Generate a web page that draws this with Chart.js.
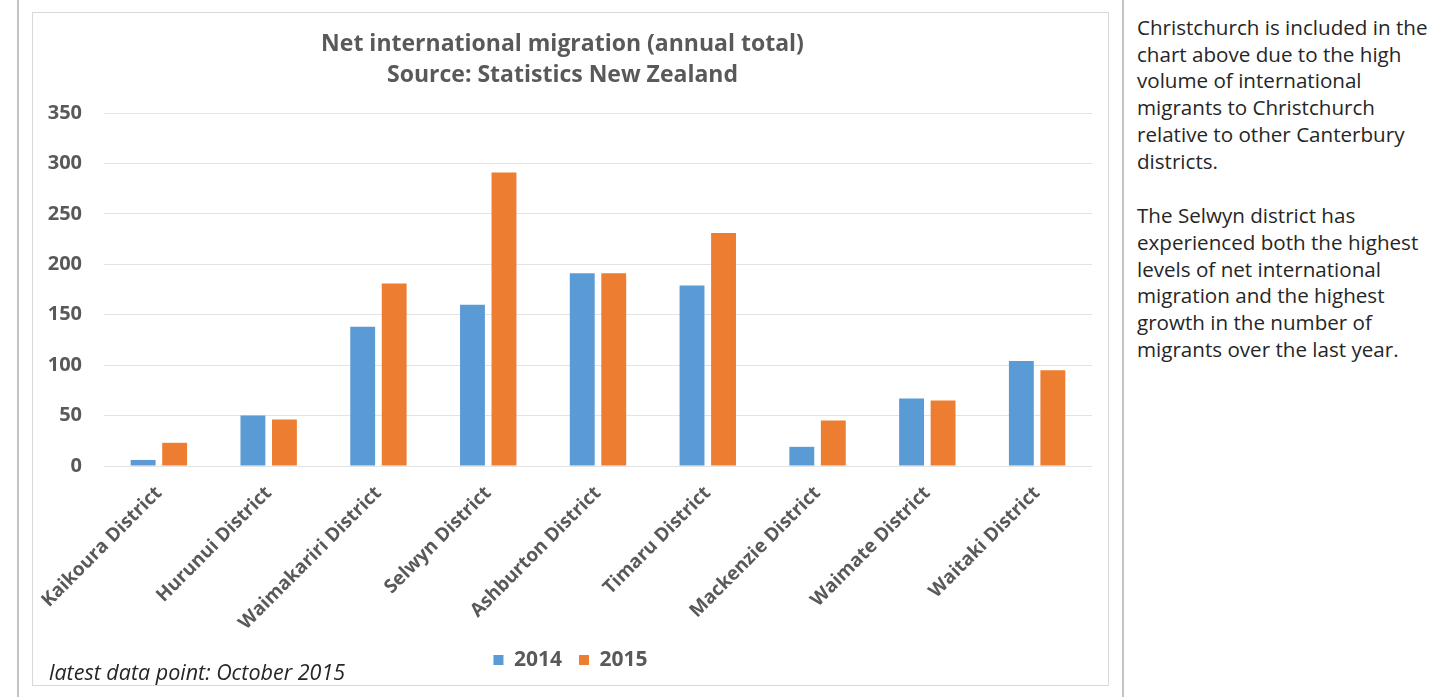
<!DOCTYPE html>
<html>
<head>
<meta charset="utf-8">
<script src="https://cdn.jsdelivr.net/npm/chart.js@4.4.0/dist/chart.umd.min.js"></script>
<style>
  html, body { margin: 0; padding: 0; background: #ffffff; }
  body { width: 1445px; height: 697px; position: relative; overflow: hidden; font-family: "Open Sans", sans-serif; }
  .rule { position: absolute; top: 0; width: 2px; height: 697px; background: #c3c3c3; }
  #box { position: absolute; left: 32px; top: 12px; width: 1077px; height: 674px; box-sizing: border-box; border: 1px solid #d9d9d9; }
  #wrap { position: relative; width: 1075px; height: 672px; }
  #note { position: absolute; left: 49px; top: 657px; font-style: italic; font-size: 21.5px; line-height: 30px; color: #262626; white-space: nowrap; }
  #side { position: absolute; left: 1137px; top: 14px; font-size: 20.6px; line-height: 26.7px; color: #262626; white-space: nowrap; }
  #side p { margin: 0 0 28px 0; }
</style>
</head>
<body>
<div class="rule" style="left:17px"></div>
<div class="rule" style="left:1122px"></div>
<div id="box"><div id="wrap"><canvas id="chart"></canvas></div></div>
<div id="note">latest data point: October 2015</div>
<div id="side">
  <p>Christchurch is included in the<br>chart above due to the high<br>volume of international<br>migrants to Christchurch<br>relative to other Canterbury<br>districts.</p>
  <p>The Selwyn district has<br>experienced both the highest<br>levels of net international<br>migration and the highest<br>growth in the number of<br>migrants over the last year.</p>
</div>
<script>
// Canterbury districts and net international migration (annual total)
const districts = [
  'Kaikoura District', 'Hurunui District', 'Waimakariri District',
  'Selwyn District', 'Ashburton District', 'Timaru District',
  'Mackenzie District', 'Waimate District', 'Waitaki District'
];
const migration2014 = [6, 50, 138, 160, 191, 179, 19, 67, 104];
const migration2015 = [23, 46, 181, 291, 191, 231, 45, 65, 95];
const seriesNames = ['2014', '2015'];
const titleLines = ['Net international migration (annual total)', 'Source: Statistics New Zealand'];
const yMin = 0, yMax = 350, yStep = 50;

const FONT = '"Open Sans", sans-serif';
const GREY = '#595959';

// Centre the legend on the whole canvas rather than on the padded layout box
const legendCentre = {
  id: 'legendCentre',
  afterLayout(chart) {
    const lg = chart.legend;
    if (!lg) return;
    const shift = (chart.width - (lg.left + lg.right)) / 2;
    lg.left += shift;
    lg.right += shift;
  }
};

new Chart(document.getElementById('chart'), {
  type: 'bar',
  data: {
    labels: districts,
    datasets: [
      { label: seriesNames[0], data: migration2014, backgroundColor: '#5B9BD5', categoryPercentage: 0.574, barPercentage: 0.79 },
      { label: seriesNames[1], data: migration2015, backgroundColor: '#ED7D31', categoryPercentage: 0.574, barPercentage: 0.79 }
    ]
  },
  plugins: [legendCentre],
  options: {
    responsive: true,
    maintainAspectRatio: false,
    animation: false,
    layout: { padding: { top: 0, right: 16, bottom: 4.5, left: 0 } },
    plugins: {
      tooltip: { enabled: false },
      title: {
        display: true,
        text: titleLines,
        color: GREY,
        font: { family: FONT, weight: 'bold', size: 23, lineHeight: 31 / 23 },
        padding: { top: 16, bottom: 22 }
      },
      legend: {
        position: 'bottom',
        labels: {
          color: GREY,
          boxWidth: 10,
          boxHeight: 10,
          padding: 17,
          font: { family: FONT, weight: 'bold', size: 21 }
        }
      }
    },
    scales: {
      x: {
        grid: { display: false },
        border: { display: false },
        ticks: {
          color: GREY,
          autoSkip: false,
          minRotation: 45,
          maxRotation: 45,
          padding: 8,
          font: { family: FONT, weight: 'bold', size: 19 }
        },
        afterFit(scale) { scale.height = 166.5; }
      },
      y: {
        min: yMin,
        max: yMax,
        grid: { color: '#e3e3e3', drawTicks: false, lineWidth: 1 },
        border: { display: false },
        ticks: {
          stepSize: yStep,
          color: GREY,
          padding: 22,
          font: { family: FONT, weight: 'bold', size: 20 }
        },
        afterFit(scale) { scale.width = 71; }
      }
    }
  }
});
</script>
</body>
</html>
